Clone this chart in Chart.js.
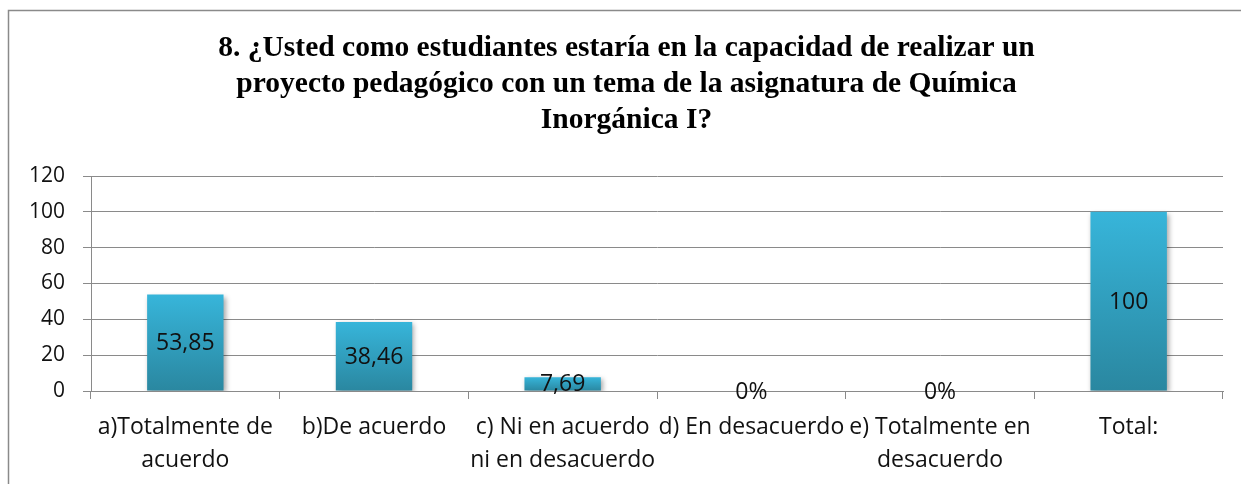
<!DOCTYPE html>
<html>
<head>
<meta charset="utf-8">
<style>
  html, body { margin: 0; padding: 0; background: #fff; }
  #wrap { width: 1241px; height: 484px; }
</style>
<script src="https://cdn.jsdelivr.net/npm/chart.js@4.4.1/dist/chart.umd.min.js"></script>
</head>
<body>
<div id="wrap"><canvas id="chart" width="1241" height="484"></canvas></div>
<script>
const titleLines = [
  "8. ¿Usted como estudiantes estaría en la capacidad de realizar un",
  "proyecto pedagógico con un tema de la asignatura de Química",
  "Inorgánica I?"
];

const categories = [
  ["a)Totalmente de", "acuerdo"],
  "b)De acuerdo",
  ["c) Ni en acuerdo", "ni en desacuerdo"],
  "d) En desacuerdo",
  ["e) Totalmente en", "desacuerdo"],
  "Total:"
];
const values = [53.85, 38.46, 7.69, 0, 0, 100];
const valueLabels = ["53,85", "38,46", "7,69", "0%", "0%", "100"];

const yMin = 0;
const yMax = 120;
const yStep = 20;

const gridColor = "#8a8a8a";
const textFont = "'Open Sans', 'Noto Sans', sans-serif";

// Gradient for each bar (light top, darker bottom)
function barGradient(context) {
  const chart = context.chart;
  if (!chart.chartArea || context.type !== "data") return "#33aed4";
  const y = chart.scales.y;
  const top = y.getPixelForValue(context.raw);
  const bottom = y.getPixelForValue(0);
  if (bottom - top < 1) return "#37b5da";
  const g = chart.ctx.createLinearGradient(0, top, 0, bottom);
  g.addColorStop(0, "#37b5da");
  g.addColorStop(1, "#2a87a0");
  return g;
}

// Outer frame of the chart
const framePlugin = {
  id: "frame",
  beforeDraw(chart) {
    const ctx = chart.ctx;
    ctx.save();
    ctx.fillStyle = "#fff";
    ctx.fillRect(0, 0, chart.width, chart.height);
    ctx.strokeStyle = "#8a8a8a";
    ctx.lineWidth = 1.5;
    ctx.strokeRect(8.5, 10.5, 1260, 500);
    ctx.restore();
  }
};

// Soft shadow under the bars
const shadowPlugin = {
  id: "barShadow",
  beforeDatasetsDraw(chart) {
    const ctx = chart.ctx;
    ctx.save();
    ctx.shadowColor = "rgba(0,0,0,0.35)";
    ctx.shadowBlur = 5;
    ctx.shadowOffsetX = 2;
    ctx.shadowOffsetY = 2;
  },
  afterDatasetsDraw(chart) {
    chart.ctx.restore();
  }
};

// Value labels centred in the bars
const valueLabelPlugin = {
  id: "valueLabels",
  afterDatasetsDraw(chart) {
    const ctx = chart.ctx;
    const meta = chart.getDatasetMeta(0);
    ctx.save();
    ctx.shadowColor = "transparent";
    ctx.font = "23px " + textFont;
    ctx.fillStyle = "#111";
    ctx.textAlign = "center";
    ctx.textBaseline = "middle";
    meta.data.forEach((bar, i) => {
      const yMid = (bar.y + bar.base) / 2 + 1;
      ctx.fillText(valueLabels[i], bar.x, yMid);
    });
    ctx.restore();
  }
};

new Chart(document.getElementById("chart"), {
  type: "bar",
  plugins: [framePlugin, shadowPlugin, valueLabelPlugin],
  data: {
    labels: categories,
    datasets: [{
      data: values,
      backgroundColor: barGradient,
      borderWidth: 0,
      categoryPercentage: 1,
      barPercentage: 0.405
    }]
  },
  options: {
    responsive: false,
    animation: false,
    layout: { padding: { left: 30, right: 18, top: 0, bottom: 0 } },
    plugins: {
      legend: { display: false },
      tooltip: { enabled: false },
      title: {
        display: true,
        text: titleLines,
        color: "#000",
        font: { family: "'Liberation Serif', 'Times New Roman', serif", size: 29.5, weight: "bold", lineHeight: 36 / 29.5 },
        padding: { top: 30, bottom: 38 }
      }
    },
    scales: {
      x: {
        offset: true,
        grid: {
          offset: true,
          drawOnChartArea: false,
          drawTicks: true,
          tickLength: 8,
          color: gridColor,
          lineWidth: 1
        },
        border: { display: true, color: gridColor, width: 1 },
        ticks: {
          color: "#111",
          font: { family: textFont, size: 23, lineHeight: 33 / 23 },
          padding: 12,
          maxRotation: 0,
          autoSkip: false
        },
        afterFit(scale) { scale.height = 93; }
      },
      y: {
        min: yMin,
        max: yMax,
        grid: {
          color: gridColor,
          lineWidth: 1,
          drawTicks: true,
          tickLength: 8
        },
        border: { display: true, color: gridColor, width: 1 },
        ticks: {
          stepSize: yStep,
          color: "#111",
          font: { family: textFont, size: 21 },
          padding: 18
        },
        afterFit(scale) { scale.width = 61; }
      }
    }
  }
});
</script>
</body>
</html>
